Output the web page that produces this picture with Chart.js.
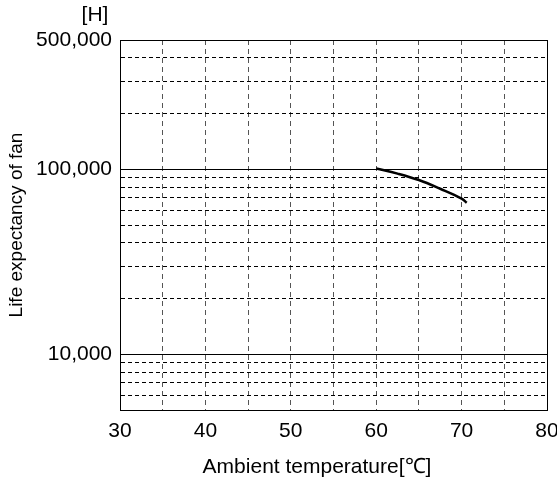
<!DOCTYPE html>
<html>
<head>
<meta charset="utf-8">
<script src="https://cdn.jsdelivr.net/npm/chart.js@4.4.1/dist/chart.umd.min.js"></script>
<style>
  html, body { margin: 0; padding: 0; background: #fff; }
  #wrap { width: 557px; height: 482px; }
</style>
</head>
<body>
<div id="wrap"><canvas id="fanChart" width="557" height="482"></canvas></div>
<script>
// Fan life vs. ambient temperature
const temps = [60, 62.5, 65, 67.5, 70, 70.6];
const lifeHours = [101000, 94800, 87500, 78500, 69500, 66000];

const xTicks = [30, 35, 40, 45, 50, 55, 60, 65, 70, 75, 80];
const yTicks = [5000, 6000, 7000, 8000, 9000, 10000, 20000, 30000, 40000, 50000,
                60000, 70000, 80000, 90000, 100000, 200000, 300000, 400000, 500000];
const yLabelled = [10000, 100000, 500000];
const ySolid = [5000, 10000, 100000, 500000];

const FONT = 'Liberation Sans, Arial, sans-serif';

// extra text: unit above the y axis, x axis title
const textPlugin = {
    id: 'extraText',
    afterDraw(chart) {
        const c = chart.ctx;
        c.save();
        c.fillStyle = '#000';
        c.font = '21px ' + FONT;
        c.textAlign = 'center';
        c.textBaseline = 'middle';
        c.fillText('[H]', 95, 15);
        c.fillText('Ambient temperature[℃]', 317, 467);
        c.restore();
    }
};

new Chart(document.getElementById('fanChart').getContext('2d'), {
    type: 'line',
    data: {
        datasets: [{
            data: temps.map((t, i) => ({ x: t, y: lifeHours[i] })),
            borderColor: '#000',
            borderWidth: 2.5,
            pointRadius: 0,
            tension: 0.4,
            fill: false
        }]
    },
    options: {
        responsive: false,
        animation: false,
        layout: { padding: { left: 0, right: 0, top: 40, bottom: 0 } },
        plugins: { legend: { display: false }, tooltip: { enabled: false } },
        scales: {
            x: {
                type: 'linear',
                min: 30,
                max: 80,
                afterBuildTicks: scale => { scale.ticks = xTicks.map(v => ({ value: v })); },
                afterFit: scale => {
                    scale.height = 72;
                    scale.paddingRight = 10;
                },
                ticks: {
                    autoSkip: false,
                    maxRotation: 0,
                    padding: 9,
                    color: '#000',
                    font: { family: FONT, size: 21 },
                    callback: v => (v % 10 === 0 ? String(v) : '')
                },
                grid: {
                    drawTicks: false,
                    color: ctx => (ctx.tick && (ctx.tick.value === 30 || ctx.tick.value === 80) ? '#000' : '#555'),
                    lineWidth: 1
                },
                border: {
                    color: '#000',
                    width: 1,
                    dash: ctx => (ctx.tick && (ctx.tick.value === 30 || ctx.tick.value === 80) ? [] : [5, 4])
                }
            },
            y: {
                type: 'logarithmic',
                min: 5000,
                max: 500000,
                afterBuildTicks: scale => { scale.ticks = yTicks.map(v => ({ value: v })); },
                afterFit: scale => { scale.width = 120; },
                ticks: {
                    autoSkip: false,
                    padding: 8,
                    color: '#000',
                    font: { family: FONT, size: 21 },
                    callback: v => (yLabelled.includes(v) ? v.toLocaleString('en-US') : '')
                },
                title: {
                    display: true,
                    text: 'Life expectancy of fan',
                    color: '#000',
                    font: { family: FONT, size: 19 },
                    padding: { top: 5, bottom: 0 }
                },
                grid: {
                    drawTicks: false,
                    color: '#000',
                    lineWidth: 1
                },
                border: {
                    color: '#000',
                    width: 1,
                    dash: ctx => (ctx.tick && ySolid.includes(ctx.tick.value) ? [] : [4, 3])
                }
            }
        }
    },
    plugins: [textPlugin]
});
</script>
</body>
</html>
